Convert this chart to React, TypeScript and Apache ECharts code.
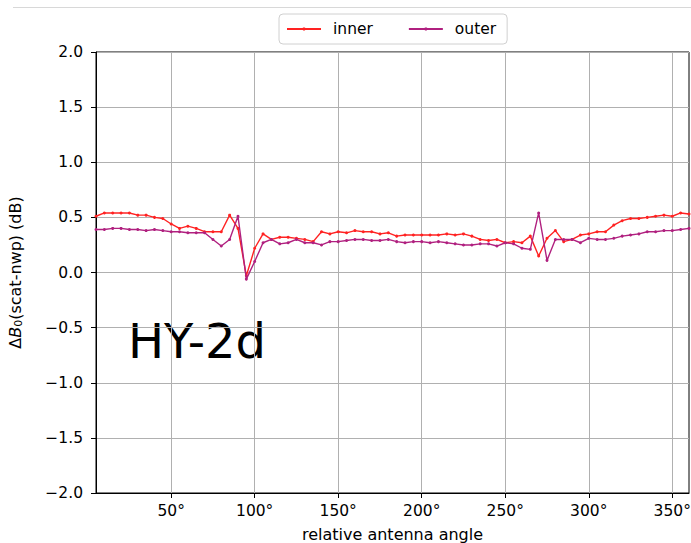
import React, { useEffect, useRef } from "react";
import * as echarts from "echarts";

const angles: number[] = [
  5, 10, 15, 20, 25, 30, 35, 40, 45, 50, 55, 60, 65, 70, 75, 80, 85, 90, 95, 100,
  105, 110, 115, 120, 125, 130, 135, 140, 145, 150, 155, 160, 165, 170, 175, 180,
  185, 190, 195, 200, 205, 210, 215, 220, 225, 230, 235, 240, 245, 250, 255, 260,
  265, 270, 275, 280, 285, 290, 295, 300, 305, 310, 315, 320, 325, 330, 335, 340,
  345, 350, 355, 360,
];

const inner: number[] = [
  0.51, 0.54, 0.54, 0.54, 0.54, 0.52, 0.52, 0.5, 0.49, 0.44,
  0.4, 0.42, 0.4, 0.37, 0.37, 0.37, 0.52, 0.4, -0.03, 0.22,
  0.35, 0.3, 0.32, 0.32, 0.31, 0.3, 0.28, 0.37, 0.35, 0.37,
  0.36, 0.38, 0.37, 0.37, 0.35, 0.36, 0.33, 0.34, 0.34, 0.34,
  0.34, 0.34, 0.35, 0.34, 0.35, 0.33, 0.3, 0.29, 0.3, 0.27,
  0.28, 0.27, 0.33, 0.15, 0.31, 0.38, 0.28, 0.3, 0.34, 0.35,
  0.37, 0.37, 0.43, 0.47, 0.49, 0.49, 0.5, 0.51, 0.52, 0.51,
  0.54, 0.53,
];

const outer: number[] = [
  0.39, 0.39, 0.4, 0.4, 0.39, 0.39, 0.38, 0.39, 0.38, 0.37,
  0.37, 0.36, 0.36, 0.36, 0.3, 0.24, 0.3, 0.51, -0.06, 0.1,
  0.27, 0.3, 0.26, 0.27, 0.3, 0.27, 0.27, 0.25, 0.28, 0.28,
  0.29, 0.3, 0.3, 0.29, 0.29, 0.3, 0.28, 0.27, 0.28, 0.28,
  0.27, 0.28, 0.27, 0.26, 0.25, 0.25, 0.26, 0.26, 0.24, 0.27,
  0.26, 0.22, 0.21, 0.54, 0.11, 0.3, 0.3, 0.3, 0.27, 0.31,
  0.3, 0.3, 0.31, 0.33, 0.34, 0.35, 0.37, 0.37, 0.38, 0.38,
  0.39, 0.4,
];

const xTicks: number[] = [50, 100, 150, 200, 250, 300, 350];
const seriesNames: string[] = ["inner", "outer"];
const label = "HY-2d";

const FONT = "DejaVu Sans";
const RED = "#ff2222";
const PURPLE = "#b0207f";
const TICK_FS = 15.5;
const NAME_FS = 16;

export default function App() {
  const ref = useRef<HTMLDivElement>(null);
  useEffect(() => {
    if (!ref.current) return;
    const chart = echarts.init(ref.current, undefined, { renderer: "svg" });
    const fmtY = (v: number) => (v < 0 ? "\u2212" : "") + Math.abs(v).toFixed(1);
    chart.setOption({
      animation: false,
      textStyle: { fontFamily: FONT },
      grid: {
        left: 96,
        right: 2,
        top: 52,
        bottom: 50,
        containLabel: false,
        outerBoundsMode: "none",
        show: true,
        borderColor: "#000",
        borderWidth: 1,
        backgroundColor: "transparent",
      },
      legend: {
        data: seriesNames,
        left: 279,
        top: 14,
        padding: [7, 11, 7, 7],
        itemGap: 35,
        itemWidth: 34,
        itemHeight: 4,
        borderColor: "#d0d0d0",
        borderWidth: 1,
        borderRadius: 4,
        textStyle: { fontFamily: FONT, fontSize: TICK_FS, color: "#000", padding: [0, 0, 0, 7], lineHeight: 16 },
      },
      xAxis: {
        type: "value",
        min: 5,
        max: 360,
        name: "relative antenna angle",
        nameLocation: "middle",
        nameGap: 33,
        nameTextStyle: { fontFamily: FONT, fontSize: NAME_FS, color: "#000" },
        axisLine: { show: true, onZero: false, lineStyle: { color: "#000", width: 1 } },
        axisTick: { show: true, length: 5, lineStyle: { color: "#000" }, customValues: xTicks },
        axisLabel: {
          customValues: xTicks,
          formatter: (v: number) => v + "\u00b0",
          fontFamily: FONT,
          fontSize: TICK_FS,
          color: "#000",
          margin: 10,
        },
        splitLine: { show: true, lineStyle: { color: "#b0b0b0", width: 1 } },
      },
      yAxis: {
        type: "value",
        min: -2,
        max: 2,
        interval: 0.5,
        name: "{d|\u0394}{b|B}{s|0}{n|(scat-nwp) (dB)}",
        nameLocation: "middle",
        nameGap: 72,
        nameTextStyle: {
          fontFamily: FONT,
          fontSize: NAME_FS,
          color: "#000",
          rich: {
            d: { fontFamily: FONT, fontSize: NAME_FS, color: "#000" },
            b: { fontFamily: FONT, fontSize: NAME_FS, fontStyle: "italic", color: "#000" },
            s: { fontFamily: FONT, fontSize: 11, color: "#000", padding: [7, 0, 0, 0] },
            n: { fontFamily: FONT, fontSize: NAME_FS, color: "#000" },
          },
        },
        axisLine: { show: true, onZero: false, lineStyle: { color: "#000", width: 1 } },
        axisTick: { show: true, length: 5, lineStyle: { color: "#000" } },
        axisLabel: {
          formatter: fmtY,
          fontFamily: FONT,
          fontSize: TICK_FS,
          color: "#000",
          margin: 13,
        },
        splitLine: { show: true, lineStyle: { color: "#b0b0b0", width: 1 } },
      },
      series: [
        {
          name: seriesNames[0],
          type: "line",
          data: angles.map((a, i) => [a, inner[i]]),
          symbol: "circle",
          symbolSize: 3,
          showSymbol: true,
          itemStyle: { color: RED },
          lineStyle: { color: RED, width: 1.4 },
          z: 3,
        },
        {
          name: seriesNames[1],
          type: "line",
          data: angles.map((a, i) => [a, outer[i]]),
          symbol: "circle",
          symbolSize: 3,
          showSymbol: true,
          itemStyle: { color: PURPLE },
          lineStyle: { color: PURPLE, width: 1.4 },
          z: 4,
        },
      ],
      graphic: [
        {
          type: "line",
          shape: { x1: 13, y1: 7.5, x2: 691, y2: 7.5 },
          style: { stroke: "#d8d8d8", lineWidth: 1 },
          silent: true,
        },
        {
          type: "text",
          left: 128,
          top: 317,
          style: {
            text: label,
            fontFamily: FONT,
            fontSize: 48,
            fill: "#000",
          },
          silent: true,
        },
      ],
    });
    return () => chart.dispose();
  }, []);
  return (
    <div
      ref={ref}
      style={{ position: "fixed", left: 0, top: 0, width: 691, height: 543, background: "#fff" }}
    />
  );
}
